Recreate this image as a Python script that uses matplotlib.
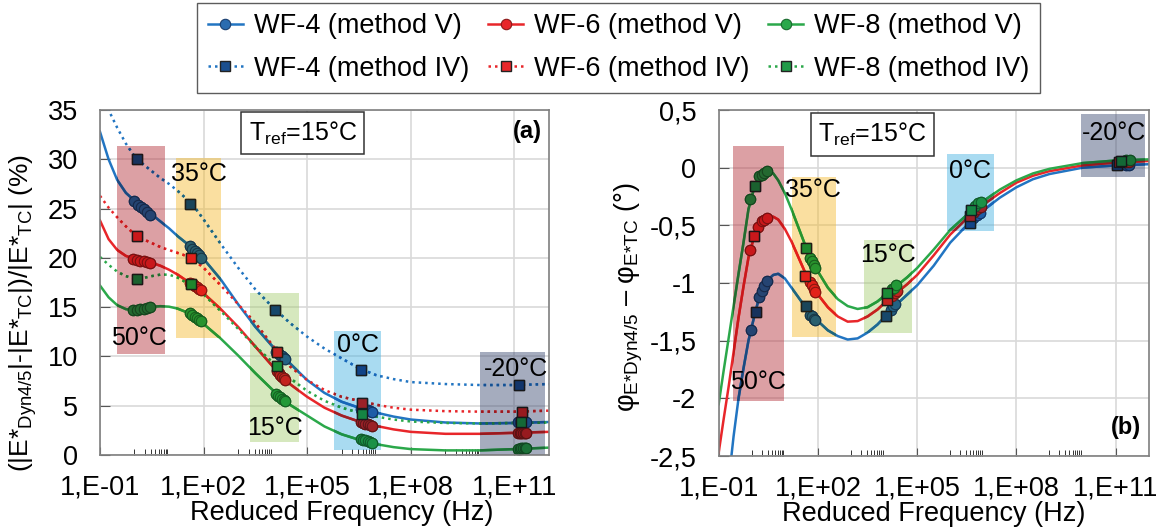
import numpy as np
import matplotlib
matplotlib.use("Agg")
import matplotlib.pyplot as plt
from matplotlib.patches import Rectangle
from matplotlib.lines import Line2D
from matplotlib.colors import to_rgb
from matplotlib.ticker import NullFormatter

plt.rcParams['font.family'] = ['Liberation Sans', 'DejaVu Sans']
plt.rcParams['mathtext.fontset'] = 'custom'
plt.rcParams['mathtext.rm'] = 'Liberation Sans'
plt.rcParams['mathtext.it'] = 'Liberation Sans'
plt.rcParams['mathtext.bf'] = 'Liberation Sans:bold'
plt.rcParams['mathtext.default'] = 'regular'
plt.rcParams['axes.unicode_minus'] = False

# ---- data : x given as log10(reduced frequency / Hz) ----
# panel (a) fitted curves
lf_a = [-1, -0.75, -0.5, -0.25, 0, 0.25, 0.5, 0.75, 1, 1.25, 1.5, 1.75, 2, 2.5, 3,
        3.5, 4, 4.5, 5, 5.5, 6, 6.5, 7, 7.5, 8, 9, 10, 11, 12]
a_wf4_v = [32.8, 30.0, 27.9, 26.6, 25.8, 25.2, 24.4, 23.7, 23.0, 22.2, 21.5, 20.8, 19.9, 17.8, 15.3,
           13.0, 11.0, 9.3, 7.6, 6.3, 5.4, 4.8, 4.3, 3.9, 3.6, 3.3, 3.2, 3.25, 3.35]
a_wf6_v = [23.8, 21.9, 20.8, 20.2, 19.9, 19.7, 19.5, 19.2, 18.8, 18.3, 17.7, 17.1, 16.4, 14.8, 13.0,
           11.0, 9.0, 7.2, 5.9, 4.8, 4.0, 3.4, 2.95, 2.6, 2.35, 2.15, 2.15, 2.25, 2.35]
a_wf8_v = [17.2, 16.0, 15.2, 14.8, 14.7, 14.85, 15.05, 15.1, 15.05, 14.85, 14.5, 14.0, 13.3, 11.8, 10.1,
           8.3, 6.6, 5.1, 4.0, 2.9, 2.1, 1.55, 1.1, 0.8, 0.6, 0.47, 0.47, 0.6, 0.75]
a_wf4_iv = [37.0, 35.0, 33.2, 31.6, 30.3, 29.5, 28.8, 28.1, 27.5, 26.8, 26.0, 25.1, 23.9, 21.4, 19.0,
            16.8, 15.0, 13.4, 12.0, 10.8, 9.8, 8.8, 8.1, 7.7, 7.4, 7.2, 7.1, 7.1, 7.2]
a_wf6_iv = [26.3, 25.1, 24.1, 23.2, 22.4, 21.9, 21.5, 21.1, 20.8, 20.5, 20.2, 19.7, 19.0, 17.2, 15.3,
            13.4, 11.1, 9.0, 7.6, 6.6, 5.9, 5.5, 5.1, 4.8, 4.6, 4.45, 4.4, 4.4, 4.5]
a_wf8_iv = [20.1, 19.3, 18.6, 18.15, 17.9, 17.95, 18.15, 18.3, 18.3, 18.0, 17.5, 17.0, 16.3, 14.6, 12.8,
            11.0, 9.4, 7.8, 6.5, 5.5, 4.8, 4.3, 3.9, 3.6, 3.4, 3.25, 3.2, 3.25, 3.3]

# panel (a) measured points, method V (circles)
a_pts_v_lf = {
    'WF-4': [0.0, 0.1, 0.2, 0.28, 0.37, 0.45, 1.6, 1.67, 1.74, 1.8, 1.86, 1.92,
             4.1, 4.16, 4.22, 4.28, 4.33, 4.37, 6.57, 6.63, 6.7, 6.76, 6.82, 6.88,
             11.1, 11.15, 11.2, 11.25, 11.3, 11.35],
    'WF-6': [-0.03, 0.07, 0.17, 0.27, 0.37, 0.45, 1.62, 1.68, 1.74, 1.8, 1.86, 1.92,
             4.12, 4.17, 4.22, 4.27, 4.32, 4.37, 6.55, 6.62, 6.68, 6.75, 6.82, 6.88,
             11.1, 11.15, 11.2, 11.25, 11.3, 11.35],
    'WF-8': [-0.03, 0.07, 0.17, 0.27, 0.37, 0.45, 1.6, 1.67, 1.74, 1.8, 1.86, 1.92,
             4.1, 4.16, 4.22, 4.28, 4.33, 4.37, 6.55, 6.62, 6.68, 6.75, 6.82, 6.88,
             11.1, 11.15, 11.2, 11.25, 11.3, 11.35],
}
a_pts_v_y = {
    'WF-4': [25.8, 25.4, 25.2, 25.0, 24.7, 24.4, 21.2, 20.9, 20.7, 20.5, 20.3, 20.0,
             10.5, 10.3, 10.15, 10.0, 9.85, 9.7, 4.7, 4.65, 4.6, 4.55, 4.45, 4.4,
             3.32, 3.31, 3.3, 3.3, 3.3, 3.3],
    'WF-6': [19.9, 19.8, 19.7, 19.65, 19.6, 19.5, 17.5, 17.3, 17.15, 17.0, 16.85, 16.7,
             8.5, 8.3, 8.1, 7.95, 7.8, 7.6, 3.3, 3.2, 3.15, 3.1, 3.0, 2.95,
             2.25, 2.25, 2.25, 2.25, 2.25, 2.25],
    'WF-8': [14.7, 14.75, 14.8, 14.85, 14.95, 15.05, 14.4, 14.2, 14.0, 13.85, 13.7, 13.55,
             6.2, 6.0, 5.85, 5.7, 5.55, 5.45, 1.65, 1.55, 1.5, 1.4, 1.3, 1.25,
             0.65, 0.66, 0.67, 0.68, 0.69, 0.7],
}
# panel (a) measured points, method IV (squares)
a_pts_iv_lf = {'WF-4': [0.08, 1.62, 4.07, 6.55, 11.12],
               'WF-6': [0.08, 1.63, 4.12, 6.6, 11.22],
               'WF-8': [0.08, 1.63, 4.12, 6.58, 11.2]}
a_pts_iv_y = {'WF-4': [30.0, 25.5, 14.75, 8.6, 7.1],
              'WF-6': [22.2, 20.0, 10.5, 5.3, 4.4],
              'WF-8': [17.9, 17.3, 9.0, 4.2, 3.3]}

# panel (b) fitted curves
lf_b = [-1, -0.85, -0.7, -0.55, -0.4, -0.25, -0.1, 0.05, 0.2, 0.35, 0.5, 0.65, 0.8, 1.0,
        1.2, 1.4, 1.6, 1.8, 2.0, 2.3, 2.6, 2.9, 3.2, 3.5, 3.8, 4.1, 4.4, 4.7, 5.0,
        5.5, 6.0, 6.5, 7.0, 7.5, 8.0, 8.5, 9.0, 10, 11, 12]
b_wf4 = [-3.6, -3.15, -2.72, -2.33, -2.0, -1.74, -1.5, -1.32, -1.15, -1.05, -0.97, -0.93, -0.92, -0.96,
         -1.04, -1.12, -1.2, -1.27, -1.33, -1.41, -1.46, -1.49, -1.48, -1.43, -1.36, -1.27, -1.18, -1.1, -1.02,
         -0.85, -0.65, -0.5, -0.37, -0.26, -0.17, -0.1, -0.055, 0.0, 0.02, 0.03]
b_wf6 = [-2.47, -2.18, -1.9, -1.6, -1.3, -1.03, -0.78, -0.62, -0.51, -0.455, -0.43, -0.425, -0.45, -0.53,
         -0.64, -0.77, -0.9, -1.01, -1.1, -1.21, -1.29, -1.335, -1.33, -1.29, -1.23, -1.15, -1.08, -1.01, -0.93,
         -0.76, -0.58, -0.44, -0.32, -0.22, -0.13, -0.07, -0.03, 0.02, 0.045, 0.058]
b_wf8 = [-2.05, -1.76, -1.48, -1.2, -0.92, -0.65, -0.36, -0.2, -0.09, -0.04, -0.025, -0.05, -0.11, -0.22,
         -0.36, -0.51, -0.66, -0.79, -0.9, -1.04, -1.14, -1.2, -1.225, -1.21, -1.16, -1.09, -1.02, -0.95, -0.87,
         -0.71, -0.54, -0.41, -0.29, -0.19, -0.11, -0.05, -0.01, 0.04, 0.062, 0.072]

b_pts_v_lf = {
    'WF-4': [-0.03, 0.22, 0.3, 0.37, 0.47, 1.76, 1.82, 1.87, 1.92, 4.2, 4.27, 4.33,
             6.7, 6.8, 6.9, 11.3, 11.4],
    'WF-6': [-0.05, 0.2, 0.3, 0.37, 0.45, 1.76, 1.82, 1.87, 1.92, 4.25, 4.32, 4.38,
             6.72, 6.82, 6.92, 11.3, 11.4],
    'WF-8': [-0.04, 0.22, 0.3, 0.38, 0.47, 1.76, 1.82, 1.87, 1.92, 4.25, 4.3, 4.35,
             6.76, 6.85, 6.93, 11.3, 11.45],
}
b_pts_v_y = {
    'WF-4': [-1.41, -1.12, -1.07, -1.03, -0.98, -1.28, -1.29, -1.31, -1.32, -1.23, -1.2, -1.18,
             -0.44, -0.41, -0.39, 0.025, 0.027],
    'WF-6': [-0.71, -0.51, -0.46, -0.45, -0.44, -0.99, -1.02, -1.05, -1.08, -1.11, -1.09, -1.07,
             -0.38, -0.36, -0.34, 0.05, 0.052],
    'WF-8': [-0.27, -0.075, -0.06, -0.045, -0.03, -0.78, -0.81, -0.84, -0.87, -1.05, -1.04, -1.02,
             -0.33, -0.31, -0.3, 0.064, 0.066],
}
b_pts_iv_lf = {'WF-4': [0.13, 1.64, 4.05, 6.59, 11.05],
               'WF-6': [0.08, 1.62, 4.1, 6.6, 11.1],
               'WF-8': [0.1, 1.64, 4.09, 6.62, 11.15]}
b_pts_iv_y = {'WF-4': [-1.25, -1.2, -1.29, -0.48, 0.02],
              'WF-6': [-0.59, -0.94, -1.15, -0.42, 0.045],
              'WF-8': [-0.16, -0.70, -1.09, -0.37, 0.058]}

# temperature bands: (log f from, log f to), (y from, y to); label positions
temps = ['50°C', '35°C', '15°C', '0°C', '-20°C']
band_tint = ['#dda0a5', '#fae0a0', '#d6e8be', '#aadcf2', '#a6acbe']
bands_a = [((-0.5, 0.89), (10.2, 31.3)), ((1.21, 2.5), (11.9, 30.1)), ((3.34, 4.75), (1.3, 16.4)),
           ((5.79, 7.13), (0.5, 12.6)), ((10.0, 11.9), (0.0, 10.5))]
labels_a = [(0.14, 11.9), (1.86, 28.5), (4.06, 2.7), (6.47, 11.2), (11.05, 8.7)]
bands_b = [((-0.57, 0.97), (-2.02, 0.19)), ((1.23, 2.55), (-1.47, -0.08)), ((3.39, 4.83), (-1.43, -0.63)),
           ((5.91, 7.32), (-0.55, 0.12)), ((9.95, 11.9), (-0.078, 0.465))]
labels_b = [(0.19, -1.86), (1.85, -0.19), (4.13, -0.76), (6.61, -0.03), (10.94, 0.30)]

series = ['WF-4', 'WF-6', 'WF-8']
line_col = {'WF-4': '#2275c2', 'WF-6': '#e8262a', 'WF-8': '#2ba84a'}
circ_face = {'WF-4': '#2b6cb0', 'WF-6': '#e8262a', 'WF-8': '#2aa84a'}
circ_edge = {'WF-4': '#1a3f70', 'WF-6': '#8b1a1a', 'WF-8': '#1a6a2e'}
sq_face = {'WF-4': '#1b4f8f', 'WF-6': '#e8262a', 'WF-8': '#1f9a48'}
sq_edge = '#222222'
DOT = (0, (1, 1.6))
FS = 19.5
BAND_ALPHA = 0.45


def hz(lf):
    return np.power(10.0, np.asarray(lf, dtype=float))


def mult(col, tint):
    # multiply-blend a colour with a band tint (the bands act like coloured filters)
    if tint is None:
        return col
    return tuple(np.array(to_rgb(col)) * np.array(to_rgb(tint)))


def draw_series(ax, lines_solid, lines_dot, lf_line, pts_v, pts_iv, tint=None, clip=None, dz=0.0):
    arts = []
    for s in series:
        if lines_dot is not None:
            arts += ax.plot(hz(lf_line), lines_dot[s], color=mult(line_col[s], tint), lw=1.8,
                            ls=DOT, zorder=2 + dz)
        arts += ax.plot(hz(lf_line), lines_solid[s], color=mult(line_col[s], tint), lw=1.8,
                        zorder=2 + dz)
    for s in series:
        arts += ax.plot(hz(pts_v[0][s]), pts_v[1][s], 'o', ms=7.5, mfc=mult(circ_face[s], tint),
                        mec=mult(circ_edge[s], tint), mew=0.8, zorder=3 + dz)
        arts += ax.plot(hz(pts_iv[0][s]), pts_iv[1][s], 's', ms=7.5, mfc=mult(sq_face[s], tint),
                        mec=mult(sq_edge, tint), mew=1.0, zorder=3 + dz)
    if clip is not None:
        for a in arts:
            a.set_clip_path(clip)


def draw_panel(ax, bands, labels, *args):
    draw_series(ax, *args)
    for name, tint, (xr, yr), (lx, ly) in zip(temps, band_tint, bands, labels):
        x0, x1 = hz(xr)
        # translucent layer so the grid stays visible beneath the band
        base = 1 - (1 - np.array(to_rgb(tint))) / BAND_ALPHA
        rect = Rectangle((x0, yr[0]), x1 - x0, yr[1] - yr[0], facecolor=np.clip(base, 0, 1),
                         alpha=BAND_ALPHA, lw=0, zorder=1)
        ax.add_patch(rect)
        draw_series(ax, *args, tint=tint, clip=rect, dz=0.5)
        ax.text(hz(lx), ly, name, fontsize=18, ha='center', va='center', zorder=6)


def style_axes(ax, yticks, yticklabels, ylim):
    ax.set_xscale('log')
    ax.set_xlim(1e-1, 1e12)
    ax.set_ylim(*ylim)
    ax.set_xticks(hz([-1, 2, 5, 8, 11]))
    ax.set_xticklabels(['1,E-01', '1,E+02', '1,E+05', '1,E+08', '1,E+11'])
    minors = [k * 10.0 ** (3 * n) for n in range(4) for k in range(1, 10)]
    ax.set_xticks(minors, minor=True)
    ax.xaxis.set_minor_formatter(NullFormatter())
    ax.set_yticks(yticks)
    ax.set_yticklabels(yticklabels)
    ax.tick_params(axis='x', which='major', direction='in', length=6, width=0.8,
                   color='#555555', pad=14, labelsize=FS)
    ax.tick_params(axis='x', which='minor', direction='in', length=4.5, width=0.7,
                   color='#333333')
    ax.tick_params(axis='y', which='major', direction='in', length=7, width=0.8,
                   color='#555555', pad=16, labelsize=FS)
    ax.grid(True, which='major', color='#d9d9d9', lw=1.2)
    ax.set_axisbelow(True)
    for sp in ax.spines.values():
        sp.set_color('#7f7f7f')
        sp.set_linewidth(1.2)
        sp.set_zorder(8)


def tref_box(ax, x, y):
    ax.text(x, y, 'T$_{ref}$=15°C', transform=ax.transAxes, fontsize=18,
            ha='center', va='center', zorder=7,
            bbox=dict(boxstyle='square,pad=0.3', fc='white', ec='#333333', lw=1.1))


fig = plt.figure(figsize=(11.65, 5.31), dpi=100)
ax_a = fig.add_axes([0.0858, 0.1431, 0.3854, 0.6497])
ax_b = fig.add_axes([0.6169, 0.1412, 0.3691, 0.6516])

# ---- panel (a) ----
style_axes(ax_a, np.arange(0, 36, 5), [str(v) for v in range(0, 36, 5)], (0, 35))
draw_panel(ax_a, bands_a, labels_a,
           {'WF-4': a_wf4_v, 'WF-6': a_wf6_v, 'WF-8': a_wf8_v},
           {'WF-4': a_wf4_iv, 'WF-6': a_wf6_iv, 'WF-8': a_wf8_iv},
           lf_a, (a_pts_v_lf, a_pts_v_y), (a_pts_iv_lf, a_pts_iv_y))
tref_box(ax_a, 0.452, 0.933)
ax_a.text(0.951, 0.937, '(a)', transform=ax_a.transAxes, fontsize=17, fontweight='bold',
          ha='center', va='center', zorder=7)
ax_a.set_xlabel('Reduced Frequency (Hz)', fontsize=FS)
ax_a.xaxis.set_label_coords(0.539, -0.13)
ax_a.set_ylabel('(|E*$_{Dyn4/5}$|-|E*$_{TC}$|)/|E*$_{TC}$| (%)', fontsize=19)
ax_a.yaxis.set_label_coords(-0.135, 0.41)

# ---- panel (b) ----
yt_b = [-2.5, -2, -1.5, -1, -0.5, 0, 0.5]
style_axes(ax_b, yt_b, ['-2,5', '-2', '-1,5', '-1', '-0,5', '0', '0,5'], (-2.5, 0.5))
draw_panel(ax_b, bands_b, labels_b,
           {'WF-4': b_wf4, 'WF-6': b_wf6, 'WF-8': b_wf8}, None,
           lf_b, (b_pts_v_lf, b_pts_v_y), (b_pts_iv_lf, b_pts_iv_y))
tref_box(ax_b, 0.357, 0.929)
ax_b.text(0.947, 0.081, '(b)', transform=ax_b.transAxes, fontsize=17, fontweight='bold',
          ha='center', va='center', zorder=7)
ax_b.set_xlabel('Reduced Frequency (Hz)', fontsize=FS)
ax_b.xaxis.set_label_coords(0.5, -0.13)
ax_b.set_ylabel('φ$_{E{*}Dyn4/5}$ – φ$_{E{*}TC}$ (°)', fontsize=19.5)
ax_b.yaxis.set_label_coords(-0.171, 0.46)

# ---- legend ----
handles, labels = [], []
for s in series:
    handles.append(Line2D([], [], color=line_col[s], lw=1.8, marker='o', ms=7.5,
                          mfc=circ_face[s], mec=circ_edge[s], mew=0.8))
    labels.append(f'{s} (method V)')
    handles.append(Line2D([], [], color=line_col[s], lw=1.8, ls=DOT, marker='s',
                          ms=7, mfc=sq_face[s], mec=sq_edge, mew=1.0))
    labels.append(f'{s} (method IV)')
leg = fig.legend(handles, labels, ncol=3, loc='upper center', bbox_to_anchor=(0.531, 0.995),
                 fontsize=FS, frameon=True, fancybox=False, edgecolor='#333333',
                 handlelength=1.3, handletextpad=0.4, columnspacing=0.7, labelspacing=0.6,
                 borderpad=0.4, borderaxespad=0, numpoints=1)
leg.get_frame().set_linewidth(1.0)

fig.savefig('out.png', dpi=100)
